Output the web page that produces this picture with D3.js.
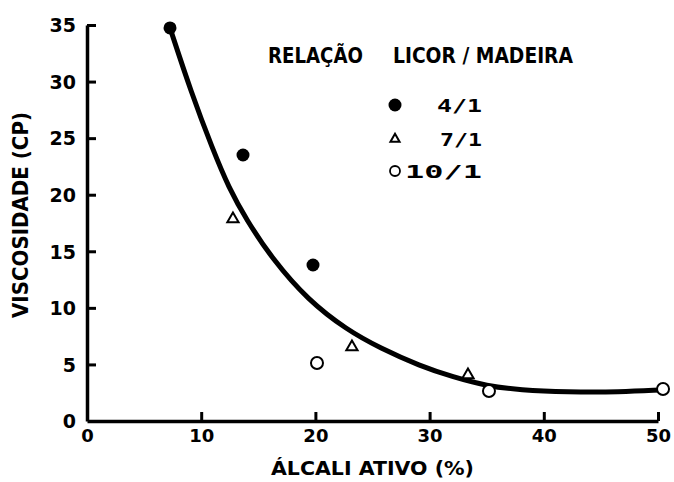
<!DOCTYPE html>
<html><head><meta charset="utf-8">
<script src="https://cdn.jsdelivr.net/npm/d3@7"></script>
<style>body{margin:0;background:#fff}svg{display:block}</style>
</head><body>
<svg id="c" width="674" height="482"></svg>
<script>
// ---- data ----
const xTicks = [0, 10, 20, 30, 40, 50];
const yTicks = [0, 5, 10, 15, 20, 25, 30, 35];
const xTitle = "ÁLCALI ATIVO (%)";
const yTitle = "VISCOSIDADE (CP)";
const legendTitleA = "RELAÇÃO";
const legendTitleB = "LICOR / MADEIRA";
const seriesNames = ["4/1", "7/1", "10/1"];
const s41x = [7.27, 13.66, 19.79];
const s41y = [34.74, 23.51, 13.79];
const s71x = [12.78, 23.2, 33.36];
const s71y = [17.85, 6.54, 4.07];
const s101x = [20.14, 35.2, 50.44];
const s101y = [5.13, 2.65, 2.83];
const fitX = [7.27, 9.11, 11.03, 12.43, 13.92, 16.29, 19.35, 22.77, 25.66, 29.16, 32.05, 35.03, 37.92, 42.03, 46.67, 50.18];
const fitY = [34.74, 29.08, 23.95, 20.59, 17.85, 14.23, 10.69, 8.04, 6.45, 4.86, 3.89, 3.09, 2.74, 2.56, 2.56, 2.74];

// ---- drawing ----
const svg = d3.select("#c");
const x = d3.scaleLinear().domain([0, 50]).range([87, 658]);
const y = d3.scaleLinear().domain([0, 35]).range([421, 25]);
const ink = "#000";
const bold = "'DejaVu Sans', sans-serif";

// x axis
const gx = svg.append("g").attr("transform", `translate(0,${y(0)})`)
  .call(d3.axisBottom(x).tickValues(xTicks).tickSize(-9).tickSizeOuter(0).tickPadding(0).tickFormat(d3.format("d")));
gx.select(".domain").attr("stroke", ink).attr("stroke-width", 3.5);
gx.selectAll(".tick line").attr("stroke", ink).attr("stroke-width", 3);
gx.selectAll(".tick text").attr("y", 21).attr("font-family", bold).attr("font-weight", "bold")
  .attr("font-size", 18).attr("fill", ink).attr("dy", 0);
gx.selectAll(".tick").filter(d => d === 0).select("line").remove();

// y axis
const gy = svg.append("g").attr("transform", `translate(${x(0)},0)`)
  .call(d3.axisLeft(y).tickValues(yTicks).tickSize(-9).tickSizeOuter(0).tickPadding(0).tickFormat(d3.format("d")));
gy.select(".domain").attr("stroke", ink).attr("stroke-width", 3.5);
gy.selectAll(".tick line").attr("stroke", ink).attr("stroke-width", 3);
gy.selectAll(".tick text").attr("x", -11).attr("font-family", bold).attr("font-weight", "bold")
  .attr("font-size", 19).attr("fill", ink).attr("dy", "0.36em");
gy.selectAll(".tick").filter(d => d === 0).select("line").remove();

// axis titles
svg.append("text").attr("x", x(25)).attr("y", 475).attr("text-anchor", "middle")
  .attr("font-family", bold).attr("font-weight", "bold").attr("font-size", 20)
  .attr("textLength", 203).attr("lengthAdjust", "spacingAndGlyphs").attr("fill", ink).text(xTitle);
svg.append("text").attr("transform", "translate(28,215) rotate(-90)").attr("text-anchor", "middle")
  .attr("font-family", bold).attr("font-weight", "bold").attr("font-size", 21)
  .attr("textLength", 206).attr("lengthAdjust", "spacingAndGlyphs").attr("fill", ink).text(yTitle);

// fitted curve
const line = d3.line().x((d, i) => x(fitX[i])).y((d, i) => y(fitY[i])).curve(d3.curveBasis);
svg.append("path").datum(fitX).attr("d", line).attr("fill", "none").attr("stroke", ink)
  .attr("stroke-width", 5).attr("stroke-linecap", "round");

// markers
const tri = d3.symbol().type(d3.symbolTriangle);
svg.append("g").selectAll("circle").data(s41x).join("circle")
  .attr("cx", d => x(d)).attr("cy", (d, i) => y(s41y[i])).attr("r", 6.5).attr("fill", ink);
svg.append("g").selectAll("path").data(s71x).join("path")
  .attr("d", tri.size(55)).attr("transform", (d, i) => `translate(${x(d)},${y(s71y[i])})`)
  .attr("fill", "#fff").attr("stroke", ink).attr("stroke-width", 2);
svg.append("g").selectAll("circle").data(s101x).join("circle")
  .attr("cx", d => x(d)).attr("cy", (d, i) => y(s101y[i])).attr("r", 6).attr("fill", "#fff")
  .attr("stroke", ink).attr("stroke-width", 2);

// legend
svg.append("text").attr("x", 268).attr("y", 63).attr("font-family", bold).attr("font-weight", "bold")
  .attr("font-size", 21).attr("textLength", 95).attr("lengthAdjust", "spacingAndGlyphs").attr("fill", ink).text(legendTitleA);
svg.append("text").attr("x", 393).attr("y", 63).attr("font-family", bold).attr("font-weight", "bold")
  .attr("font-size", 21).attr("textLength", 180).attr("lengthAdjust", "spacingAndGlyphs").attr("fill", ink).text(legendTitleB);
const leg = svg.append("g");
const ly = [105, 139, 171];
leg.append("circle").attr("cx", 395).attr("cy", ly[0]).attr("r", 6.5).attr("fill", ink);
leg.append("path").attr("d", d3.symbol().type(d3.symbolTriangle).size(36)()).attr("transform", `translate(395,${ly[1]})`)
  .attr("fill", "#fff").attr("stroke", ink).attr("stroke-width", 2);
leg.append("circle").attr("cx", 395).attr("cy", ly[2]).attr("r", 5).attr("fill", "#fff").attr("stroke", ink).attr("stroke-width", 1.8);
const lw = [45, 42, 77];
leg.selectAll("text").data(seriesNames).join("text")
  .attr("x", 482).attr("y", (d, i) => ly[i] + 6.5).attr("text-anchor", "end")
  .attr("font-family", "'DejaVu Sans Mono', monospace").attr("font-weight", "bold").attr("font-size", 18)
  .attr("textLength", (d, i) => lw[i]).attr("lengthAdjust", "spacingAndGlyphs").attr("fill", ink).text(d => d);
</script>
</body></html>
